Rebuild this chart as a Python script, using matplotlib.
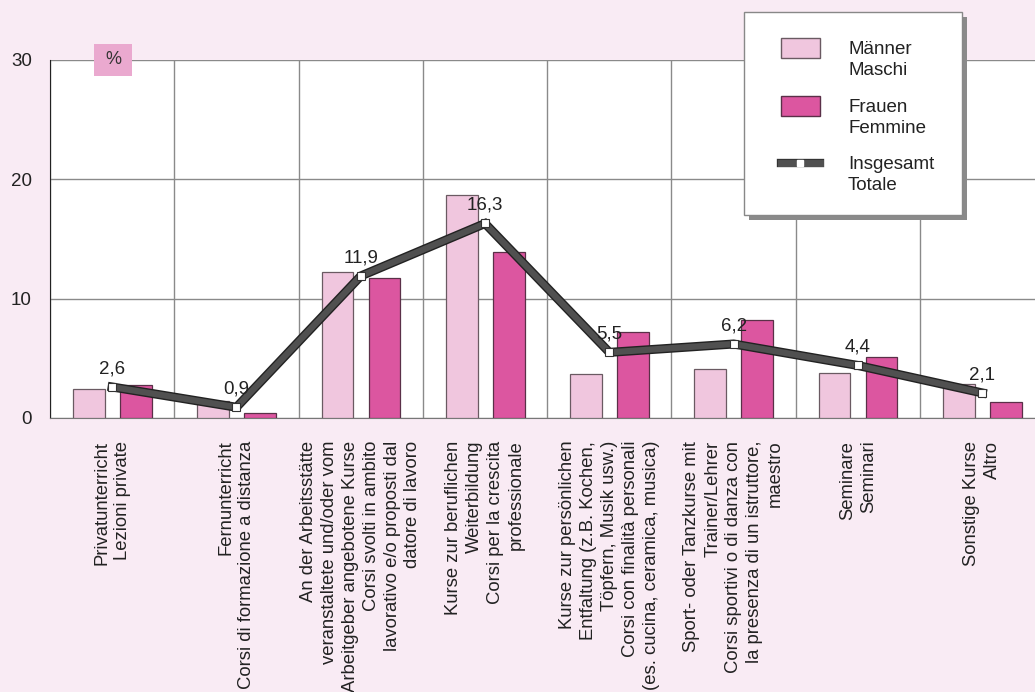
import numpy as np
import matplotlib
matplotlib.use('Agg')
from matplotlib import pyplot as plt
from matplotlib import patheffects as pe
from matplotlib.patches import Rectangle
from matplotlib.lines import Line2D

plt.rcParams['font.family'] = ['Liberation Sans', 'DejaVu Sans']

categories = [
    'Privatunterricht\nLezioni private',
    'Fernunterricht\nCorsi di formazione a distanza',
    'An der Arbeitsstätte\nveranstaltete und/oder vom\nArbeitgeber angebotene Kurse\nCorsi svolti in ambito\nlavorativo e/o proposti dal\ndatore di lavoro',
    'Kurse zur beruflichen\nWeiterbildung\nCorsi per la crescita\nprofessionale',
    'Kurse zur persönlichen\nEntfaltung (z.B. Kochen,\nTöpfern, Musik usw.)\nCorsi con finalità personali\n(es. cucina, ceramica, musica)',
    'Sport- oder Tanzkurse mit\nTrainer/Lehrer\nCorsi sportivi o di danza con\nla presenza di un istruttore,\nmaestro',
    'Seminare\nSeminari',
    'Sonstige Kurse\nAltro',
]
maenner = [2.4, 1.4, 12.2, 18.7, 3.7, 4.1, 3.8, 2.85]
frauen = [2.8, 0.4, 11.7, 13.9, 7.2, 8.2, 5.1, 1.3]
insgesamt = [2.6, 0.9, 11.9, 16.3, 5.5, 6.2, 4.4, 2.1]
total_labels = ['2,6', '0,9', '11,9', '16,3', '5,5', '6,2', '4,4', '2,1']
legend_labels = ['Männer\nMaschi', 'Frauen\nFemmine', 'Insgesamt\nTotale']
yticks = [0, 10, 20, 30]

bg = '#F9EBF4'
c_m = '#F0C6DE'
c_f = '#DC56A0'
c_line = '#505050'
txt = '#222222'

W, H = 1035, 692
fig = plt.figure(figsize=(W / 100, H / 100), dpi=100, facecolor=bg)
ax = fig.add_axes([50 / W, (H - 418) / H, 994.4 / W, 358 / H])
ax.set_facecolor('white')

x = np.arange(len(categories))
bw = 0.255
ax.bar(x - 0.188, maenner, bw, color=c_m, edgecolor='#6a5a62', linewidth=0.9, zorder=3)
ax.bar(x + 0.19, frauen, bw, color=c_f, edgecolor='#5a3048', linewidth=0.9, zorder=3)
ax.plot(x, insgesamt, color=c_line, lw=4.5, zorder=4, solid_joinstyle='miter',
        path_effects=[pe.Stroke(linewidth=6.5, foreground='#222222'), pe.Normal()])
ax.plot(x, insgesamt, ls='none', marker='s', ms=6, mfc='white', mec='#333333', mew=0.8, zorder=5)
for xi, v, t in zip(x, insgesamt, total_labels):
    ax.annotate(t, (xi, v), xytext=(0, 7), textcoords='offset points',
                ha='center', va='bottom', fontsize=13.5, color=txt, zorder=6)

ax.set_xlim(-0.5, len(categories) - 0.5)
ax.set_ylim(0, 30)
ax.set_yticks(yticks)
ax.set_xticks(np.arange(len(categories) + 1) - 0.5)
ax.set_xticklabels([])
ax.tick_params(axis='both', length=0, labelsize=13.5, colors=txt)
ax.tick_params(axis='y', pad=13)
ax.grid(True, color='#8a8a8a', lw=1.0, zorder=0)
ax.set_axisbelow(True)
for s in ['top', 'right']:
    ax.spines[s].set_visible(False)
ax.spines['left'].set_color(txt)
ax.spines['bottom'].set_color('#777777')

for xi, lab in zip(x, categories):
    ax.text(xi, -1.9, lab, rotation=90, ha='center', va='top', multialignment='right',
            fontsize=13.3, linespacing=1.3, color=txt)

# pixel helpers (top-left origin) for the decorations
def fx(px):
    return px / W

def fy(py):
    return 1 - py / H

fig.add_artist(Rectangle((fx(94), fy(76)), fx(38), 32 / H, transform=fig.transFigure,
                         fc='#EAA9CF', ec='none', zorder=9))
fig.text(fx(113), fy(60), '%', ha='center', va='center', fontsize=13, color='#333333', zorder=10)

# legend box with shadow
fig.add_artist(Rectangle((fx(749), fy(220)), fx(218), 203 / H, transform=fig.transFigure,
                         fc='#8a8a8a', ec='none', zorder=9))
fig.add_artist(Rectangle((fx(744), fy(215)), fx(218), 203 / H, transform=fig.transFigure,
                         fc='white', ec='#888888', lw=1.0, zorder=10))
key_tops = [38, 96, 153]
for i, (lab, top) in enumerate(zip(legend_labels, key_tops)):
    if i < 2:
        fig.add_artist(Rectangle((fx(781), fy(top + 20)), fx(39), 20 / H, transform=fig.transFigure,
                                 fc=[c_m, c_f][i], ec=['#6a5a62', '#5a3048'][i], lw=1.0, zorder=11))
    else:
        fig.add_artist(Line2D([fx(781), fx(820)], [fy(top + 10), fy(top + 10)], transform=fig.transFigure,
                              color=c_line, lw=5, zorder=11,
                              path_effects=[pe.Stroke(linewidth=6, foreground='#333333'), pe.Normal()]))
        fig.add_artist(Line2D([fx(800)], [fy(top + 10)], transform=fig.transFigure, ls='none',
                              marker='s', ms=4.5, mfc='white', mec='white', zorder=12))
    fig.text(fx(848), fy(top + 22), lab, ha='left', va='center', fontsize=13.5, color=txt,
             linespacing=1.33, zorder=12)

fig.savefig('out.png', dpi=100, facecolor=bg)
